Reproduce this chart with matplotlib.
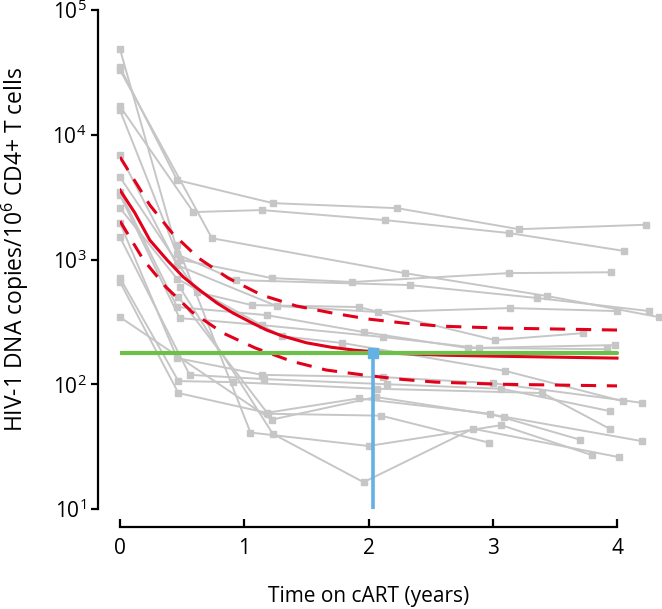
import matplotlib
matplotlib.use("Agg")
import matplotlib.pyplot as plt
from matplotlib.ticker import FixedLocator, NullLocator

plt.rcParams['font.family'] = ['Open Sans', 'DejaVu Sans']
plt.rcParams['mathtext.fontset'] = 'custom'
plt.rcParams['mathtext.rm'] = 'Open Sans'
plt.rcParams['mathtext.it'] = 'Open Sans:italic'

# individual patients (years on cART, copies/10^6 CD4+ T cells)
patients_t = [
    [0, 0.46, 1.23, 2.23, 3.21, 4.23],
    [0, 0.59, 1.14, 2.13, 3.13, 4.06],
    [0, 0.48, 1.22, 1.87, 3.13, 3.95],
    [0, 0.74, 2.29, 3.44, 4.34],
    [0, 0.46, 0.93, 2.33, 3.36, 4.26],
    [0, 0.46, 1.26, 2.08, 3.14, 4.00],
    [0, 0.62, 1.06, 1.92, 3.02, 3.73],
    [0, 0.46, 1.18, 1.96, 2.80, 3.98],
    [0, 0.48, 1.14, 2.12, 2.89, 3.92],
    [0, 0.46, 1.30, 1.79, 3.10, 4.05],
    [0, 0.46, 1.14, 2.12, 3.00, 4.20],
    [0, 0.56, 1.16, 2.15, 3.07, 3.94],
    [0, 0.47, 0.91, 2.07, 3.40, 3.94],
    [0, 0.47, 1.18, 1.92, 2.98, 3.70],
    [0, 1.22, 2.06, 3.09, 4.20],
    [0.46, 1.05, 2.00, 3.07, 3.80],
    [0.48, 1.23, 1.96, 2.84, 4.02],
    [0.47, 1.19, 2.10, 2.97],
]
patients_v = [
    [34800, 4330, 2830, 2580, 1750, 1900],
    [16900, 2400, 2490, 2070, 1630, 1170],
    [48500, 1000, 710, 660, 778, 790],
    [33000, 1480, 778, 509, 345],
    [15700, 1100, 684, 624, 491, 386],
    [6860, 900, 424, 379, 408, 386],
    [4570, 548, 431, 416, 226, 257],
    [3470, 416, 358, 262, 195, 206],
    [3280, 339, 298, 239, 195, 191],
    [2580, 700, 243, 214, 128, 73],
    [1960, 162, 119, 114, 102, 71],
    [1510, 119, 110, 100, 92, 61],
    [710, 106, 104, 92, 85, 44],
    [660, 85, 59, 77, 58, 36],
    [345, 52, 79, 55, 35],
    [1300, 41, 32, 47, 27],
    [600, 40, 16.4, 44, 26],
    [500, 58, 56, 34],
]

# model fit and 95% band
fit_t = [0, 0.12, 0.24, 0.38, 0.51, 0.64, 0.78, 0.91, 1.05, 1.18, 1.3, 1.5, 1.7, 1.9, 2.2, 2.6, 3.0, 4.0]
fit_v = [3600, 2360, 1430, 988, 723, 569, 448, 372, 315, 272, 245, 215, 198, 187, 177, 171, 168, 162]
upper_t = [0, 0.24, 0.42, 0.63, 0.87, 1.14, 1.42, 1.71, 2.0, 2.29, 2.59, 3.06, 4.0]
upper_v = [6620, 2730, 1630, 1030, 710, 519, 424, 372, 333, 309, 292, 282, 272]
lower_t = [0, 0.19, 0.37, 0.58, 0.83, 1.09, 1.38, 1.66, 1.95, 2.24, 2.54, 3.06, 4.0]
lower_v = [2030, 989, 601, 379, 257, 195, 153, 130, 119, 110, 104, 100, 97]

plateau = 178
t_plateau = 2.04

fig = plt.figure(figsize=(6.62, 6.09), dpi=100)
ax = fig.add_axes([120 / 662, 100 / 609, 540.5 / 662, 499 / 609])

grey = '#c6c6c6'
for t, v in zip(patients_t, patients_v):
    ax.plot(t, v, color=grey, lw=1.4, marker='s', ms=4, mec=grey, mfc=grey,
            zorder=1, clip_on=False)

ax.plot(upper_t, upper_v, color='#e3001b', lw=2.2, ls=(0, (5, 3.5)), zorder=3)
ax.plot(lower_t, lower_v, color='#e3001b', lw=2.2, ls=(0, (5, 3.5)), zorder=3)
ax.plot(fit_t, fit_v, color='#e3001b', lw=2.2, zorder=3)
ax.plot([0, 4], [plateau, plateau], color='#6cc04a', lw=3, zorder=4, solid_capstyle='round')
ax.plot([t_plateau, t_plateau], [10, plateau], color='#63b1e5', lw=2.6, zorder=5)
ax.plot([t_plateau], [plateau], marker='s', ms=7, color='#63b1e5', zorder=5)

ax.set_yscale('log')
ax.set_xlim(0, 4.35)
ax.set_ylim(10, 1e5)

for s in ['top', 'right']:
    ax.spines[s].set_visible(False)
ax.spines['left'].set_position(('outward', 16))
ax.spines['bottom'].set_position(('outward', 13))
ax.spines['left'].set_bounds(10, 1e5)
ax.spines['bottom'].set_bounds(0, 4)
ax.spines['left'].set_linewidth(1.6)
ax.spines['bottom'].set_linewidth(1.6)

ax.yaxis.set_major_locator(FixedLocator([10, 100, 1000, 1e4, 1e5]))
ax.yaxis.set_minor_locator(NullLocator())
ax.set_yticklabels(['$10^{1}$', '$10^{2}$', '$10^{3}$', '$10^{4}$', '$10^{5}$'])
ax.set_xticks([0, 1, 2, 3, 4])
ax.tick_params(axis='y', direction='out', length=5, width=1.6, labelsize=15, pad=3)
ax.tick_params(axis='x', direction='in', length=6, width=1.6, labelsize=15, pad=8)

ax.set_xlabel('Time on cART (years)', fontsize=15)
ax.set_ylabel('HIV-1 DNA copies/10$^{6}$ CD4+ T cells', fontsize=16.5)
ax.xaxis.set_label_coords(2 / 4.35, -0.155)
ax.yaxis.set_label_coords(-0.165, 0.52)

fig.savefig('out.png', dpi=100)
